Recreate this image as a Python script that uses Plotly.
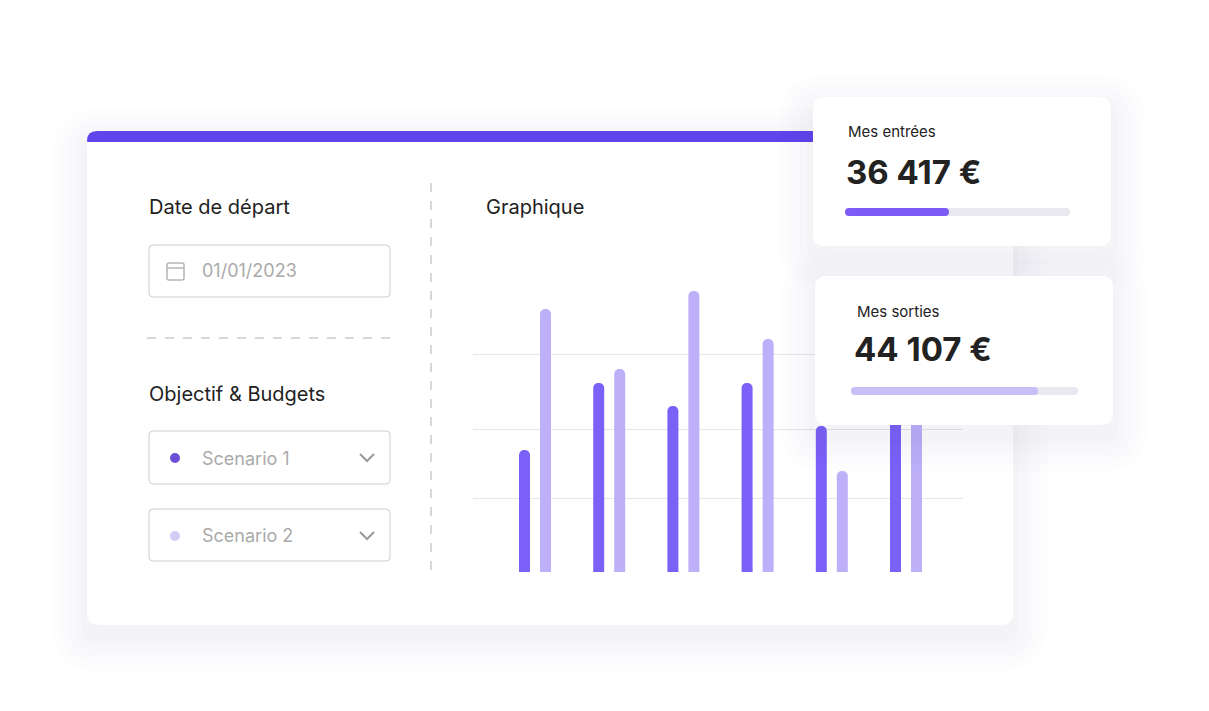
import plotly.graph_objects as go

W, H = 1209, 711
OFF = 8  # browser page margin
groups = [0, 1, 2, 3, 4, 5]
scenario1 = [122, 189, 166, 189, 146, 170]
scenario2 = [263, 203, 281, 233, 101, 210]
grid_vals = [0, 74, 143, 218, 293]

def px(x): return (x - OFF) / W
def py(y): return 1 - (y - OFF) / H

def rr(x0, y0, x1, y1, r):
    a, b, c, d = px(x0), py(y0), px(x1), py(y1)
    rx, ry = r / W, r / H
    return (f"M{a+rx},{b} L{c-rx},{b} Q{c},{b} {c},{b-ry} L{c},{d+ry} Q{c},{d} {c-rx},{d} "
            f"L{a+rx},{d} Q{a},{d} {a},{d+ry} L{a},{b-ry} Q{a},{b} {a+rx},{b} Z")

shapes = []
def box(x0, y0, x1, y1, r, fill, line=None, layer="below", lw=1):
    shapes.append(dict(type="path", path=rr(x0, y0, x1, y1, r), xref="paper", yref="paper",
                       fillcolor=fill, line=dict(color=line or fill, width=lw if line else 0), layer=layer))

def shadow(x0, y0, x1, y1, r, layer):
    for i, a in enumerate([0.006, 0.008, 0.01, 0.012, 0.014]):
        s = 34 - i * 7
        box(x0 - s, y0 - s + 12, x1 + s, y1 + s + 12, r + s, f"rgba(60,50,110,{a})", layer=layer)

# main card
shadow(87, 131, 1013, 625, 12, "below")
box(87, 131, 1013, 625, 12, "#ffffff")
box(87, 131, 830, 150, 10, "#6244ec")
shapes.append(dict(type="rect", xref="paper", yref="paper", x0=px(87), x1=px(1013), y0=py(160), y1=py(142),
                   fillcolor="#ffffff", line=dict(width=0), layer="below"))
# inputs
box(149, 245, 390, 297, 4, "#ffffff", "#cfcfcf")
box(149, 431, 390, 484, 4, "#ffffff", "#cfcfcf")
box(149, 509, 390, 561, 4, "#ffffff", "#cfcfcf")
shapes.append(dict(type="line", xref="paper", yref="paper", x0=px(147), x1=px(392), y0=py(338), y1=py(338),
                   line=dict(color="#cccccc", width=1.5, dash="dash")))
shapes.append(dict(type="line", xref="paper", yref="paper", x0=px(431), x1=px(431), y0=py(183), y1=py(578),
                   line=dict(color="#cccccc", width=1.5, dash="dash")))
# calendar icon
box(167, 263, 184, 280, 2, "rgba(0,0,0,0)", "#b5b5b5", lw=1.5)
shapes.append(dict(type="line", xref="paper", yref="paper", x0=px(167), x1=px(184), y0=py(268), y1=py(268),
                   line=dict(color="#b5b5b5", width=1.5)))
# dots and chevrons
for cy, col in [(458, "#6c4fd8"), (536, "#d4ccf7")]:
    shapes.append(dict(type="circle", xref="paper", yref="paper", x0=px(170), x1=px(180), y0=py(cy + 5),
                       y1=py(cy - 5), fillcolor=col, line=dict(width=0)))
    shapes.append(dict(type="path", xref="paper", yref="paper",
                       path=f"M{px(360)},{py(cy-4)} L{px(367)},{py(cy+3)} L{px(374)},{py(cy-4)}",
                       line=dict(color="#9a9a9a", width=2)))

# floating cards (above bars)
shadow(813, 97, 1111, 246, 12, "above")
box(813, 97, 1111, 246, 12, "#ffffff", layer="above")
box(845, 208, 1070, 216, 4, "#e9e7ef", layer="above")
box(845, 208, 949, 216, 4, "#7b5cf5", layer="above")
shadow(815, 276, 1113, 425, 12, "above")
box(815, 276, 1113, 425, 12, "#ffffff", layer="above")
box(851, 387, 1078, 395, 4, "#e9e7ef", layer="above")
box(851, 387, 1038, 395, 4, "#c9bff7", layer="above")

F = "Inter"
ann = []
def t(x, y, s, size, col="#222222", bold=False):
    ann.append(dict(x=px(x), y=py(y), xref="paper", yref="paper", text=f"<b>{s}</b>" if bold else s,
                    showarrow=False, xanchor="left", yanchor="middle",
                    font=dict(family=F, size=size, color=col)))
t(147, 207, "Date de départ", 20)
t(200, 270, "01/01/2023", 18, "#aaaaaa")
t(147, 394, "Objectif & Budgets", 20)
t(200, 458, "Scenario 1", 18, "#aaaaaa")
t(200, 535, "Scenario 2", 18, "#aaaaaa")
t(484, 207, "Graphique", 20)
t(846, 131, "Mes entrées", 15)
t(844, 172, "36 417 €", 33, bold=True)
t(855, 312, "Mes sorties", 15)
t(852, 349, "44 107 €", 33, bold=True)

u = 74.2
fig = go.Figure()
fig.add_bar(x=groups, y=scenario1, width=11 / u, offset=-16 / u, marker=dict(color="#7b61f7", line=dict(width=0)))
fig.add_bar(x=groups, y=scenario2, width=11 / u, offset=5 / u, marker=dict(color="#bdb0f9", line=dict(width=0)))
fig.update_layout(
    width=W, height=H, margin=dict(l=0, r=0, t=0, b=0), paper_bgcolor="#ffffff", plot_bgcolor="rgba(0,0,0,0)",
    showlegend=False, barmode="overlay", barcornerradius=6, shapes=shapes, annotations=ann,
    xaxis=dict(domain=[px(473), px(963)], range=[-62 / u, 5 + 57 / u], visible=False),
    yaxis=dict(domain=[py(573), py(278)], range=[-1, 294], tickvals=grid_vals, showticklabels=False,
               gridcolor="#e6e6e6", zeroline=False, showline=False),
)
fig.write_html("out.html")
